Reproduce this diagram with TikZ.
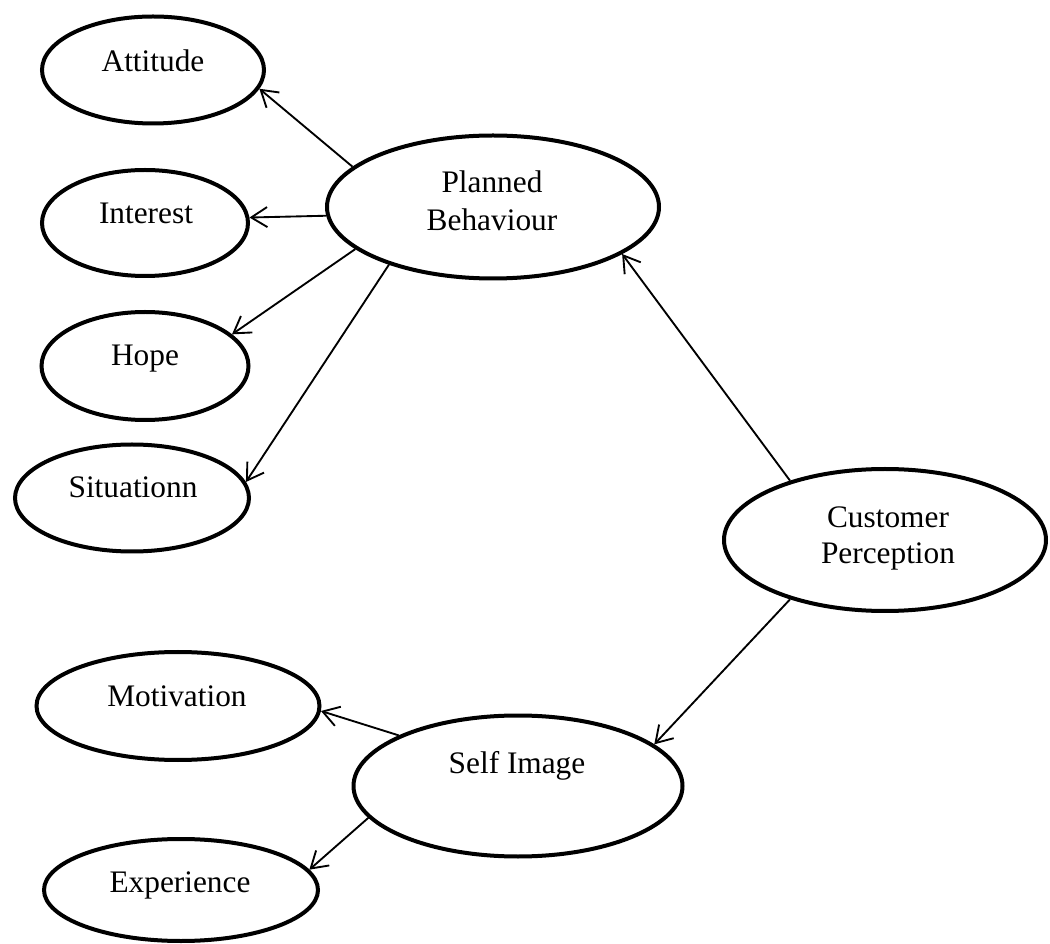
\documentclass[tikz,border=0pt]{standalone}
\usepackage{fontspec}
\setmainfont{Liberation Serif}
\usetikzlibrary{shapes.geometric,arrows.meta}
\tikzset{
  oval/.style={draw, ellipse, line width=3pt, inner sep=0pt, fill=white},
  lbl/.style={font=\fontsize{23.5}{28.5}\selectfont, inner sep=0pt, anchor=base},
  conn/.style={-{Straight Barb[length=12pt,width=15pt]}, line width=1.4pt}
}
\begin{document}
\begin{tikzpicture}[x=0.75pt,y=-0.75pt]
\useasboundingbox[fill=white] (0,0) rectangle (1050,944);
% ellipses
\node[oval, minimum width=166.5pt, minimum height=80.25pt] (att) at (153,70) {};
\node[oval, minimum width=154.5pt, minimum height=79.5pt] (int) at (145,223) {};
\node[oval, minimum width=249pt, minimum height=107.25pt] (pb) at (493,207) {};
\node[oval, minimum width=155.25pt, minimum height=81pt] (hope) at (145,366) {};
\node[oval, minimum width=175.5pt, minimum height=80.25pt] (sit) at (132,498) {};
\node[oval, minimum width=241.5pt, minimum height=106.5pt] (cp) at (885,540) {};
\node[oval, minimum width=212.25pt, minimum height=81pt] (mot) at (178,706) {};
\node[oval, minimum width=246.75pt, minimum height=105.75pt] (si) at (518,786) {};
\node[oval, minimum width=205.5pt, minimum height=76.5pt] (exp) at (181,890) {};
% labels
\node[lbl] (attT) at (153,72) {Attitude};
\node[lbl] (intT) at (146,224) {Interest};
\node[lbl] (pbT1) at (492,193) {Planned};
\node[lbl] (pbT2) at (492,231) {Behaviour};
\node[lbl] (hopeT) at (145,366) {Hope};
\node[lbl] (sitT) at (133,498) {Situationn};
\node[lbl] (cpT1) at (888,528) {Customer};
\node[lbl] (cpT2) at (888,564) {Perception};
\node[lbl] (motT) at (177,706) {Motivation};
\node[lbl] (siT) at (517,773) {Self Image};
\node[lbl] (expT) at (180,892) {Experience};
% connectors
\draw[conn] (pb.164.6) -- (att.-10.6);
\draw[conn] (pb.183.4) -- (int.3.2);
\draw[conn] (pb.197.8) -- (hope.20);
\draw[conn] (pb.209.5) -- (sit.8);
\draw[conn] (cp.148.8) -- (pb.-20);
\draw[conn] (cp.212.6) -- (si.17);
\draw[conn] (si.157.5) -- (mot.-2.7);
\draw[conn] (si.192.5) -- (exp.9.2);
\end{tikzpicture}
\end{document}
